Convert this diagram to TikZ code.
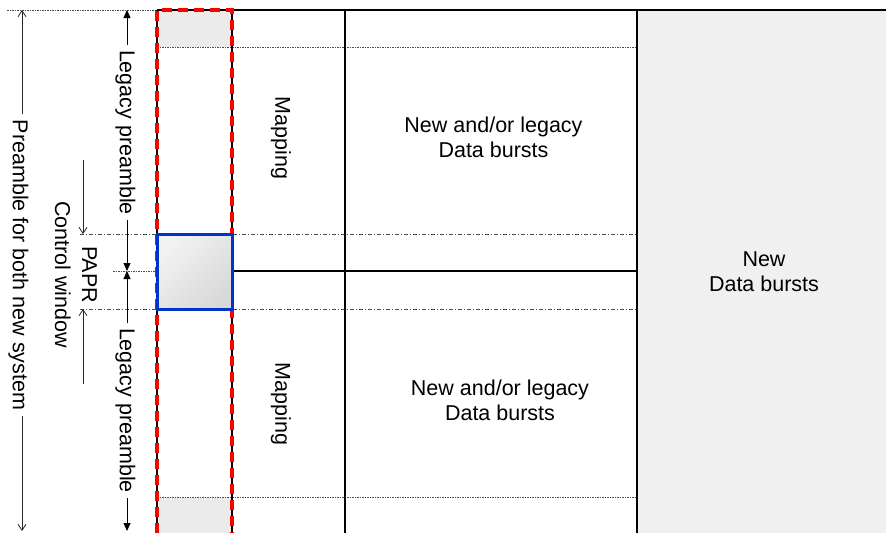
\documentclass[tikz,border=0pt]{standalone}
\usepackage{fontspec}
\setmainfont{Liberation Sans}
\usetikzlibrary{arrows.meta}
\definecolor{rightgray}{HTML}{F0F0F0}
\definecolor{cellgray}{HTML}{EBEBEB}
\definecolor{boxblue}{HTML}{0033CC}
\begin{document}
\begin{tikzpicture}[x=1pt,y=-1pt,
  txt/.style={font=\fontsize{21.5}{25}\selectfont, align=center, inner sep=0pt},
  rtxt/.style={txt, rotate=-90},
  solidline/.style={line width=2.2pt, draw=black},
  fineDot/.style={line width=0.8pt, draw=black!70, dash pattern=on 1.5pt off 1pt},
  dashDot/.style={line width=0.8pt, draw=black!70, dash pattern=on 4pt off 2pt on 1pt off 2pt},
  openArr/.style={line width=0.8pt, draw=black!85, -{Straight Barb[length=6pt,width=8pt]}},
  fillArr/.style={line width=0.8pt, draw=black, -{Triangle[length=8pt,width=7pt]}},
  redDash/.style={line width=3.2pt, draw=red, dash pattern=on 10pt off 6pt},
]
\useasboundingbox (0,0) rectangle (886,533);
% right gray region
\fill[rightgray] (637,10) rectangle (886,533);
% gray cells in preamble column
\fill[cellgray] (157,10) rectangle (232,47);
\fill[cellgray] (157,497) rectangle (232,533);
% dotted and dash-dot guide lines
\draw[fineDot] (7,10) -- (157,10);
\draw[fineDot] (157,47) -- (637,47);
\draw[fineDot] (157,497) -- (637,497);
\draw[fineDot] (113,271) -- (157,271);
\draw[dashDot] (80,234) -- (637,234);
\draw[dashDot] (80,309) -- (637,309);
% solid grid
\draw[solidline] (157,10) -- (886,10);
\draw[solidline] (157,10) -- (157,533);
\draw[solidline] (232,10) -- (232,533);
\draw[solidline] (345,10) -- (345,533);
\draw[line width=2.6pt] (637,10) -- (637,533);
\draw[solidline] (232,271) -- (637,271);
% red dashed preamble column
\draw[redDash] (157,533) -- (157,10) -- (232,10) -- (232,533);
% PAPR control box
\node[draw=boxblue, line width=3pt, minimum width=75pt, minimum height=75pt,
      inner sep=0pt, top color=white!95!black, bottom color=black!15, shading angle=45]
      (papr) at (194.5,271.5) {};
% texts
\node[rtxt] (map1) at (281,138) {Mapping};
\node[rtxt] (map2) at (281,404) {Mapping};
\node[txt] (db1) at (493.5,137) {New and/or legacy\\Data bursts};
\node[txt] (db2) at (500,400) {New and/or legacy\\Data bursts};
\node[txt] (nd) at (764,272) {New\\Data bursts};
\node[rtxt] (pre) at (18.5,265) {Preamble for both new system};
\node[rtxt] (leg1) at (125.5,132.5) {Legacy preamble};
\node[rtxt] (leg2) at (125.5,410.5) {Legacy preamble};
\node[rtxt, font=\fontsize{21.5}{27}\selectfont] (pw) at (76,274.5) {PAPR\\Control window};
% arrow end points
\coordinate (topL) at (22,10);
\coordinate (botL) at (22,531);
\coordinate (lt1) at (127,10);
\coordinate (lmid) at (127,271);
\coordinate (lb2) at (127,531);
\coordinate (pA) at (83,160);
\coordinate (pB) at (83,234);
\coordinate (pC) at (83,309);
\coordinate (pD) at (83,384);
% arrows
\draw[openArr, shorten <=6pt] (topL |- pre.west) -- (topL);
\draw[openArr, shorten <=6pt] (botL |- pre.east) -- (botL);
\draw[fillArr, shorten <=5pt] (lt1 |- leg1.west) -- (lt1);
\draw[fillArr, shorten <=5pt] (lmid |- leg1.east) -- (lmid);
\draw[fillArr, shorten <=5pt] (lmid |- leg2.west) -- (lmid);
\draw[fillArr, shorten <=5pt] (lb2 |- leg2.east) -- (lb2);
\draw[openArr] (pA) -- (pB);
\draw[openArr] (pD) -- (pC);
\end{tikzpicture}
\end{document}
